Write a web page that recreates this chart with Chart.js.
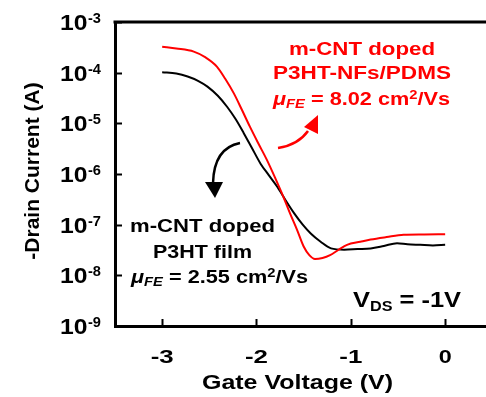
<!DOCTYPE html>
<html>
<head>
<meta charset="utf-8">
<script src="https://cdn.jsdelivr.net/npm/chart.js@4.4.1/dist/chart.umd.min.js"></script>
<style>
  html, body { margin: 0; padding: 0; background: #fff; overflow: hidden; }
  canvas { display: block; }
</style>
</head>
<body>
<canvas id="transfer" width="486" height="397"></canvas>
<script>

// transfer curves, gate voltage (V) vs drain current (A)
const gateRed = [-3.00, -2.85, -2.665, -2.54, -2.42, -2.33, -2.24, -2.155, -2.07, -1.98, -1.89, -1.80, -1.715, -1.64, -1.57, -1.50, -1.44, -1.38, -1.30, -1.22, -1.13, -1.04, -0.90, -0.79, -0.62, -0.44, -0.22, 0.00];
const drainRed = [3.25e-4, 3.0e-4, 2.6e-4, 2.0e-4, 1.32e-4, 7.5e-5, 3.9e-5, 1.85e-5, 8.6e-6, 4.0e-6, 1.9e-6, 8.2e-7, 3.55e-7, 1.6e-7, 7.9e-8, 3.7e-8, 2.5e-8, 2.1e-8, 2.2e-8, 2.5e-8, 3.2e-8, 4.0e-8, 4.6e-8, 5.1e-8, 5.7e-8, 6.3e-8, 6.4e-8, 6.5e-8];

const gateBlack = [-3.00, -2.85, -2.73, -2.62, -2.52, -2.41, -2.31, -2.22, -2.135, -2.05, -1.957, -1.87, -1.78, -1.69, -1.60, -1.51, -1.425, -1.32, -1.21, -1.07, -0.93, -0.79, -0.65, -0.51, -0.40, -0.265, -0.13, 0.00];
const drainBlack = [1.02e-4, 9.6e-5, 8.4e-5, 6.9e-5, 5.3e-5, 3.5e-5, 2.1e-5, 1.2e-5, 6.4e-6, 3.3e-6, 1.6e-6, 9.5e-7, 5.6e-7, 3.0e-7, 1.67e-7, 1.0e-7, 6.7e-8, 4.6e-8, 3.4e-8, 3.2e-8, 3.3e-8, 3.4e-8, 3.8e-8, 4.3e-8, 4.1e-8, 4.0e-8, 3.9e-8, 4.0e-8];

const xTicks = [-3, -2, -1, 0];
const yExponents = [-3, -4, -5, -6, -7, -8, -9];

const RED = '#ff0000';
const FONT = '"Liberation Sans", Arial, sans-serif';

function toPoints(xs, ys) {
  return xs.map((x, i) => ({ x: x, y: ys[i] }));
}

// draws a line made of runs (text, size, vertical offset, italic),
// stretched horizontally so it spans x0..x1
function drawRuns(ctx, runs, x0, x1, cy, color) {
  ctx.save();
  let w = 0;
  runs.forEach(r => {
    ctx.font = (r.italic ? 'italic ' : '') + 'bold ' + r.size + 'px ' + FONT;
    r.w = ctx.measureText(r.t).width;
    w += r.w;
  });
  const sx = (x1 - x0) / w;
  ctx.translate(x0, cy);
  ctx.scale(sx, 1);
  ctx.fillStyle = color;
  ctx.textBaseline = 'alphabetic';
  let x = 0;
  runs.forEach(r => {
    ctx.font = (r.italic ? 'italic ' : '') + 'bold ' + r.size + 'px ' + FONT;
    ctx.fillText(r.t, x, (r.dy || 0));
    x += r.w;
  });
  ctx.restore();
}

function plain(t, size) {
  return [{ t: t, size: size }];
}

function mobility(value, size) {
  return [
    { t: '\u03bc', size: size, italic: true },
    { t: 'FE', size: size * 0.68, italic: true, dy: 3 },
    { t: ' = ' + value + ' cm', size: size },
    { t: '2', size: size * 0.68, dy: -6 },
    { t: '/Vs', size: size }
  ];
}

function arrow(ctx, color, start, ctrl, end, tip, baseA, baseB) {
  ctx.save();
  ctx.strokeStyle = color;
  ctx.fillStyle = color;
  ctx.lineWidth = 2.5;
  ctx.beginPath();
  ctx.moveTo(start[0], start[1]);
  ctx.quadraticCurveTo(ctrl[0], ctrl[1], end[0], end[1]);
  ctx.stroke();
  ctx.beginPath();
  ctx.moveTo(tip[0], tip[1]);
  ctx.lineTo(baseA[0], baseA[1]);
  ctx.lineTo(baseB[0], baseB[1]);
  ctx.closePath();
  ctx.fill();
  ctx.restore();
}

// axes keep no room for themselves, the padding places the plot area
function noRoom(scale) {
  if (scale.isHorizontal()) scale.height = 0;
  else scale.width = 0;
}

const decorations = {
  id: 'decorations',
  beforeDraw(chart) {
    const ctx = chart.ctx;
    ctx.save();
    ctx.fillStyle = '#fff';
    ctx.fillRect(0, 0, chart.width, chart.height);
    ctx.restore();
  },
  afterDraw(chart) {
    const ctx = chart.ctx;
    const area = chart.chartArea;
    const xs = chart.scales.x;
    const ys = chart.scales.y;

    ctx.save();
    ctx.strokeStyle = '#000';
    // top frame line
    ctx.lineWidth = 3;
    ctx.beginPath();
    ctx.moveTo(area.left - 1.5, area.top);
    ctx.lineTo(area.right, area.top);
    ctx.stroke();

    // inward tick marks
    ctx.lineWidth = 2;
    yExponents.forEach(e => {
      const y = Math.round(ys.getPixelForValue(Math.pow(10, e))) + 0.5;
      ctx.beginPath();
      ctx.moveTo(area.left, y);
      ctx.lineTo(area.left + 7, y);
      ctx.stroke();
    });
    xTicks.forEach(v => {
      const x = Math.round(xs.getPixelForValue(v)) + 0.5;
      ctx.beginPath();
      ctx.moveTo(x, area.bottom);
      ctx.lineTo(x, area.bottom - 7);
      ctx.stroke();
    });
    ctx.restore();

    // y tick labels 10^n
    yExponents.forEach(e => {
      const y = ys.getPixelForValue(Math.pow(10, e));
      drawRuns(ctx, plain('10', 22), 60, 87.5, y + 8, '#000');
      drawRuns(ctx, plain('-' + Math.abs(e), 14), 88, 101, y + 1, '#000');
    });

    // x tick labels
    xTicks.forEach(v => {
      const x = xs.getPixelForValue(v);
      const half = v < 0 ? 11.5 : 6.5;
      drawRuns(ctx, plain(String(v), 18), x - half, x + half, 363, '#000');
    });

    // axis titles
    drawRuns(ctx, plain('Gate Voltage (V)', 21), 202, 393, 389, '#000');
    ctx.save();
    ctx.translate(39, 171);
    ctx.rotate(-Math.PI / 2);
    ctx.font = 'bold 21px ' + FONT;
    ctx.textAlign = 'center';
    ctx.textBaseline = 'alphabetic';
    ctx.fillStyle = '#000';
    ctx.fillText('-Drain Current (A)', 0, 0);
    ctx.restore();

    // red annotation
    drawRuns(ctx, plain('m-CNT doped', 18), 289, 435, 55, RED);
    drawRuns(ctx, plain('P3HT-NFs/PDMS', 18), 273, 451, 79, RED);
    drawRuns(ctx, mobility('8.02', 18), 273, 450, 105, RED);

    // black annotation
    drawRuns(ctx, plain('m-CNT doped', 18), 130, 275, 232, '#000');
    drawRuns(ctx, plain('P3HT film', 18), 153, 252, 258, '#000');
    drawRuns(ctx, mobility('2.55', 18), 131, 308, 283, '#000');

    // bias condition
    drawRuns(ctx, [
      { t: 'V', size: 22 },
      { t: 'DS', size: 14, dy: 4 },
      { t: ' = -1V', size: 22 }
    ], 353, 461, 307, '#000');

    // curved arrows pointing at each curve
    arrow(ctx, '#000', [240, 143], [214, 148], [213, 183], [215, 198], [205, 182], [223, 182]);
    arrow(ctx, RED, [278, 148], [298, 145], [308, 131], [318, 115], [304, 127], [318, 134]);
  }
};

new Chart('transfer', {
  type: 'line',
  data: {
    datasets: [
      {
        label: 'm-CNT doped P3HT-NFs/PDMS',
        data: toPoints(gateRed, drainRed),
        borderColor: RED,
        borderWidth: 2,
        pointRadius: 0,
        cubicInterpolationMode: 'monotone'
      },
      {
        label: 'm-CNT doped P3HT film',
        data: toPoints(gateBlack, drainBlack),
        borderColor: '#000',
        borderWidth: 2,
        pointRadius: 0,
        cubicInterpolationMode: 'monotone'
      }
    ]
  },
  options: {
    responsive: false,
    animation: false,
    layout: { padding: { left: 115, top: 22, right: 0, bottom: 71 } },
    plugins: { legend: { display: false }, tooltip: { enabled: false } },
    scales: {
      x: {
        type: 'linear',
        min: -3.5,
        max: 0.433,
        grid: { display: false },
        ticks: { display: false },
        border: { color: '#000', width: 3 },
        afterFit: noRoom
      },
      y: {
        type: 'logarithmic',
        min: 1e-9,
        max: 1e-3,
        grid: { display: false },
        ticks: { display: false },
        border: { color: '#000', width: 3 },
        afterFit: noRoom
      }
    }
  },
  plugins: [decorations]
});
</script>
</body>
</html>
